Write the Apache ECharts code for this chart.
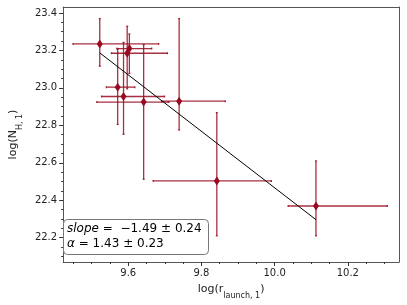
<!DOCTYPE html>
<html>
<head>
<meta charset="utf-8">
<script src="https://cdn.jsdelivr.net/npm/echarts@6/dist/echarts.min.js"></script>
<style>
html,body{margin:0;padding:0;background:#fff;}
#c{width:407px;height:305px;}
</style>
</head>
<body>
<div id="c"></div>
<script>
// ---- data ----
var xVals  = [9.522, 9.603, 9.597, 9.571, 9.587, 9.642, 9.739, 9.842, 10.113];
var yVals  = [23.235, 23.210, 23.185, 23.004, 22.954, 22.924, 22.929, 22.503, 22.369];
var xLow   = [9.449, 9.569, 9.554, 9.540, 9.527, 9.514, 9.691, 9.668, 10.037];
var xHigh  = [9.683, 9.664, 9.707, 9.618, 9.699, 9.711, 9.865, 9.991, 10.308];
var yLow   = [23.116, 23.077, 22.995, 22.805, 22.752, 22.512, 22.775, 22.210, 22.210];
var yHigh  = [23.370, 23.288, 23.329, 23.208, 23.243, 23.231, 23.370, 22.868, 22.610];
var fitX   = [9.522, 10.113];
var fitY   = [23.187, 22.296];
var xMajorTicks = [9.6, 9.8, 10.0, 10.2];
var xMinorTicks = [9.45, 9.50, 9.55, 9.65, 9.70, 9.75, 9.85, 9.90, 9.95, 10.05, 10.10, 10.15, 10.25, 10.30];
var yMajorTicks = [22.2, 22.4, 22.6, 22.8, 23.0, 23.2, 23.4];
var yMinorTicks = [22.10, 22.15, 22.25, 22.30, 22.35, 22.45, 22.50, 22.55, 22.65, 22.70, 22.75,
                   22.85, 22.90, 22.95, 23.05, 23.10, 23.15, 23.25, 23.30, 23.35];
var slopeText = ' −1.49 ± 0.24';
var alphaText = '1.43 ± 0.23';

// ---- chart ----
var XMIN = 9.422, XMAX = 10.34, YMIN = 22.07, YMAX = 23.432;
var frameColor = '#555';
var red = '#980a20';
var font = 'DejaVu Sans';

var pts = xVals.map(function (x, i) {
  return [x, yVals[i], xLow[i], xHigh[i], yLow[i], yHigh[i]];
});

function xAx(extra) {
  var base = {
    type: 'value', min: XMIN, max: XMAX, gridIndex: 0,
    splitLine: { show: false },
    axisLine: { show: false },
    axisTick: { show: false },
    axisLabel: { show: false }
  };
  return Object.assign(base, extra);
}
function yAx(extra) {
  var base = {
    type: 'value', min: YMIN, max: YMAX, gridIndex: 0,
    splitLine: { show: false },
    axisLine: { show: false },
    axisTick: { show: false },
    axisLabel: { show: false }
  };
  return Object.assign(base, extra);
}

var chart = echarts.init(document.getElementById('c'), null, { renderer: 'canvas' });
chart.setOption({
  animation: false,
  backgroundColor: '#fff',
  textStyle: { fontFamily: font },
  grid: { left: 55, right: 8, top: 7, bottom: 42, containLabel: false },
  xAxis: [
    xAx({
      position: 'bottom',
      axisLine: { show: true, onZero: false, lineStyle: { color: frameColor, width: 1 } },
      axisTick: { show: true, customValues: xMajorTicks, length: 4, lineStyle: { color: '#333' } },
      axisLabel: { show: true, customValues: xMajorTicks, margin: 6, color: '#222', fontSize: 10,
        fontFamily: font, formatter: function (v) { return v.toFixed(1); } },
      name: '{a|log(r}{s|launch, 1}{a|)}',
      nameLocation: 'middle', nameGap: 22,
      nameTextStyle: {
        rich: {
          a: { fontFamily: font, fontSize: 11, color: '#222', verticalAlign: 'top', lineHeight: 16 },
          s: { fontFamily: font, fontSize: 8, color: '#222', verticalAlign: 'bottom', lineHeight: 16 }
        }
      }
    }),
    xAx({
      position: 'bottom',
      axisTick: { show: true, customValues: xMinorTicks, length: 2, lineStyle: { color: '#333' } }
    }),
    xAx({
      position: 'top',
      axisLine: { show: true, onZero: false, lineStyle: { color: frameColor, width: 1 } }
    })
  ],
  yAxis: [
    yAx({
      position: 'left',
      axisLine: { show: true, onZero: false, lineStyle: { color: frameColor, width: 1 } },
      axisTick: { show: true, customValues: yMajorTicks, length: 4, lineStyle: { color: '#333' } },
      axisLabel: { show: true, customValues: yMajorTicks, margin: 6, color: '#222', fontSize: 10,
        fontFamily: font, formatter: function (v) { return v.toFixed(1); } },
      name: '{a|log(N}{s|H, 1}{a|)}',
      nameLocation: 'middle', nameGap: 38, nameRotate: 90,
      nameTextStyle: {
        rich: {
          a: { fontFamily: font, fontSize: 11, color: '#222', verticalAlign: 'top', lineHeight: 16 },
          s: { fontFamily: font, fontSize: 8, color: '#222', verticalAlign: 'bottom', lineHeight: 16 }
        }
      }
    }),
    yAx({
      position: 'left',
      axisTick: { show: true, customValues: yMinorTicks, length: 2, lineStyle: { color: '#333' } }
    }),
    yAx({
      position: 'right',
      axisLine: { show: true, onZero: false, lineStyle: { color: frameColor, width: 1 } }
    })
  ],
  series: [
    {
      type: 'custom',
      xAxisIndex: 0, yAxisIndex: 0,
      data: pts,
      z: 3,
      renderItem: function (params, api) {
        var c = api.coord([api.value(0), api.value(1)]);
        var xl = api.coord([api.value(2), api.value(1)]);
        var xh = api.coord([api.value(3), api.value(1)]);
        var yl = api.coord([api.value(0), api.value(4)]);
        var yh = api.coord([api.value(0), api.value(5)]);
        var st = { stroke: red, lineWidth: 1.3, opacity: 0.85 };
        var cap = 1;
        return {
          type: 'group',
          children: [
            { type: 'line', shape: { x1: xl[0], y1: c[1], x2: xh[0], y2: c[1] }, style: st },
            { type: 'line', shape: { x1: c[0], y1: yl[1], x2: c[0], y2: yh[1] }, style: st },
            { type: 'line', shape: { x1: xl[0], y1: c[1] - cap, x2: xl[0], y2: c[1] + cap }, style: st },
            { type: 'line', shape: { x1: xh[0], y1: c[1] - cap, x2: xh[0], y2: c[1] + cap }, style: st },
            { type: 'line', shape: { x1: c[0] - cap, y1: yl[1], x2: c[0] + cap, y2: yl[1] }, style: st },
            { type: 'line', shape: { x1: c[0] - cap, y1: yh[1], x2: c[0] + cap, y2: yh[1] }, style: st }
          ]
        };
      }
    },
    {
      type: 'scatter',
      xAxisIndex: 0, yAxisIndex: 0,
      data: xVals.map(function (x, i) { return [x, yVals[i]]; }),
      symbol: 'diamond', symbolSize: [6, 9],
      itemStyle: { color: red, opacity: 1 },
      z: 4
    },
    {
      type: 'line',
      xAxisIndex: 0, yAxisIndex: 0,
      data: fitX.map(function (x, i) { return [x, fitY[i]]; }),
      showSymbol: false, symbol: 'none',
      lineStyle: { color: '#000', width: 1 },
      z: 5
    }
  ],
  graphic: [
    {
      type: 'rect',
      shape: { x: 63.5, y: 219.5, width: 145, height: 35, r: 4 },
      style: { fill: 'rgba(255,255,255,0.9)', stroke: '#777', lineWidth: 1 },
      z: 10
    },
    {
      type: 'text',
      x: 67, y: 221,
      style: {
        text: '{i|slope}{n| = ' + slopeText + '}\n{i|α}{n| = ' + alphaText + '}',
        rich: {
          i: { fontFamily: font, fontSize: 12, fontStyle: 'italic', color: '#000', lineHeight: 15 },
          n: { fontFamily: font, fontSize: 12, color: '#000', lineHeight: 15 }
        }
      },
      z: 11
    }
  ]
});
</script>
</body>
</html>
